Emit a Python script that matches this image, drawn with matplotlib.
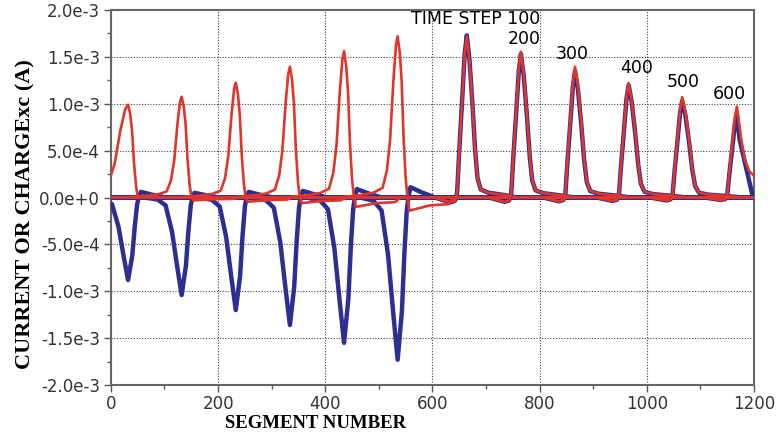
import numpy as np
import matplotlib
matplotlib.use("Agg")
from matplotlib import pyplot as plt
from matplotlib.ticker import MultipleLocator

# peak positions (segment number) and peak values (A)
left_seg = [32, 132, 233, 334, 435, 535]
right_seg = [664, 765, 866, 966, 1066, 1168]
red_left_peak = [0.99e-3, 1.075e-3, 1.225e-3, 1.395e-3, 1.56e-3, 1.72e-3]
blue_left_peak = [-0.88e-3, -1.04e-3, -1.20e-3, -1.36e-3, -1.55e-3, -1.73e-3]
red_right_peak = [1.72e-3, 1.555e-3, 1.395e-3, 1.22e-3, 1.07e-3, 0.97e-3]
blue_right_peak = [1.73e-3, 1.53e-3, 1.35e-3, 1.20e-3, 1.03e-3, 0.88e-3]

# small wiggles after the left pulses
red_undershoot = [0.0, -0.03e-3, -0.045e-3, -0.06e-3, -0.1e-3, -0.14e-3]
blue_overshoot = [0.06e-3, 0.05e-3, 0.06e-3, 0.07e-3, 0.09e-3, 0.11e-3]

# pulse outlines (offset from peak, fraction of peak)
red_left_off = [-110, -70, -45, -28, -20, -14, -8, -3, 0, 4, 7.5, 11, 15, 18.5]
red_left_frac = [0, 0.015, 0.03, 0.06, 0.17, 0.36, 0.72, 0.95, 1.0, 0.9, 0.72,
                 0.38, 0.12, 0.0]
red_left_width = [1.8, 1, 1, 1, 1, 1]
blue_left_off = [-70, -45, -30, -18, -8, 0, 8, 12.5, 17, 20]
blue_left_frac = [0, 0.02, 0.08, 0.35, 0.72, 1.0, 0.7, 0.35, 0.08, 0]
right_off = [-60, -30, -22, -18, -14, -9, -4, 0, 5, 10.5, 15.6, 20, 26, 40, 70, 95]
right_frac = [0, -0.03, -0.02, 0.03, 0.29, 0.58, 0.88, 1.0, 0.85, 0.58, 0.29,
              0.12, 0.05, 0.03, 0.015, 0]
right_tail = [1, 1.05, 1.1, 1.15, 1.2, 1.25]

# end of the last pulse at the line end
red_end_seg = [1176, 1183, 1191, 1200]
red_end_val = [0.62e-3, 0.4e-3, 0.28e-3, 0.23e-3]
blue_end_seg = [1173, 1198, 1200]
blue_end_val = [0.62e-3, 0.0, 0.0]

yticks = [-2e-3, -1.5e-3, -1e-3, -5e-4, 0, 5e-4, 1e-3, 1.5e-3, 2e-3]
ytick_labels = ["-2.0e-3", "-1.5e-3", "-1.0e-3", "-5.0e-4", "0.0e+0",
                "5.0e-4", "1.0e-3", "1.5e-3", "2.0e-3"]
xticks = [0, 200, 400, 600, 800, 1000, 1200]

step_labels = ["TIME STEP 100", "200", "300", "400", "500", "600"]
step_label_x = [680, 771, 860, 981, 1068, 1154]
step_label_y = [1.90e-3, 1.69e-3, 1.53e-3, 1.387e-3, 1.232e-3, 1.104e-3]

RED = "#e0352b"
BLUE = "#2b2f92"

fig = plt.figure(figsize=(7.81, 4.37), dpi=100)
ax = fig.add_axes([0.142, 0.119, 0.8235, 0.858])

red_lines = []
blue_lines = []
for i in range(6):
    # left pulses
    p = left_seg[i]
    xs = [0] + [p + o * (red_left_width[i] if o < 0 else 1) for o in red_left_off]
    ys = [0] + [red_left_peak[i] * f for f in red_left_frac]
    u = red_undershoot[i]
    xs += [p + 22, p + 60, p + 95, p + 105, 1200]
    ys += [u, u * 0.6, u * 0.5, 0, 0]
    red_lines.append((xs, ys))

    xs = [0] + [p + o for o in blue_left_off]
    ys = [0] + [blue_left_peak[i] * f for f in blue_left_frac]
    xs += [p + 24, p + 45, p + 70, 1200]
    ys += [blue_overshoot[i], blue_overshoot[i] * 0.5, 0, 0]
    blue_lines.append((xs, ys))

    # right pulses
    p = right_seg[i]
    for peak, lines, end_seg, end_val in [
            (red_right_peak[i], red_lines, red_end_seg, red_end_val),
            (blue_right_peak[i], blue_lines, blue_end_seg, blue_end_val)]:
        xs = [0]
        ys = [0]
        for o, f in zip(right_off, right_frac):
            if i == 5 and o > 0:
                break
            xs.append(p + (o * right_tail[i] if o > 0 else o))
            ys.append(peak * f)
        if i == 5:
            xs += end_seg
            ys += end_val
        else:
            xs.append(1200)
            ys.append(0)
        lines.append((xs, ys))

for xs, ys in blue_lines:
    ax.plot(xs, ys, color=BLUE, lw=3.2, solid_joinstyle="round", zorder=3)
for xs, ys in red_lines:
    ax.plot(xs, ys, color=RED, lw=1.9, solid_joinstyle="round", zorder=4)

for lab, x, y in zip(step_labels, step_label_x, step_label_y):
    ax.text(x, y, lab, ha="center", va="center", fontsize=12.5, color="black",
            zorder=5)

ax.set_xlim(0, 1200)
ax.set_ylim(-2e-3, 2e-3)
ax.set_xticks(xticks)
ax.set_yticks(yticks)
ax.set_yticklabels(ytick_labels)
ax.xaxis.set_minor_locator(MultipleLocator(100))
ax.yaxis.set_minor_locator(MultipleLocator(2.5e-4))
ax.tick_params(which="major", length=5, width=1, color="#555555",
               labelsize=12, labelcolor="#333333")
ax.tick_params(which="minor", length=3, width=1, color="#555555")
ax.tick_params(axis="x", pad=2)
ax.tick_params(axis="y", pad=3)
ax.grid(True, which="major", color="#444444", linestyle=(0, (1, 1.5)), lw=0.8)
for s in ax.spines.values():
    s.set_color("#666666")
    s.set_linewidth(1.5)

fig.text(315.5 / 781, 1 - 424 / 437, "SEGMENT NUMBER", ha="center", va="center",
         fontsize=13.5, fontweight="bold", family="Liberation Serif")
fig.text(25 / 781, 1 - 214.5 / 437, "CURRENT OR CHARGExc (A)", ha="center",
         va="center", rotation=90, fontsize=16, fontweight="bold",
         family="Liberation Serif")

fig.savefig("out.png", dpi=100)
